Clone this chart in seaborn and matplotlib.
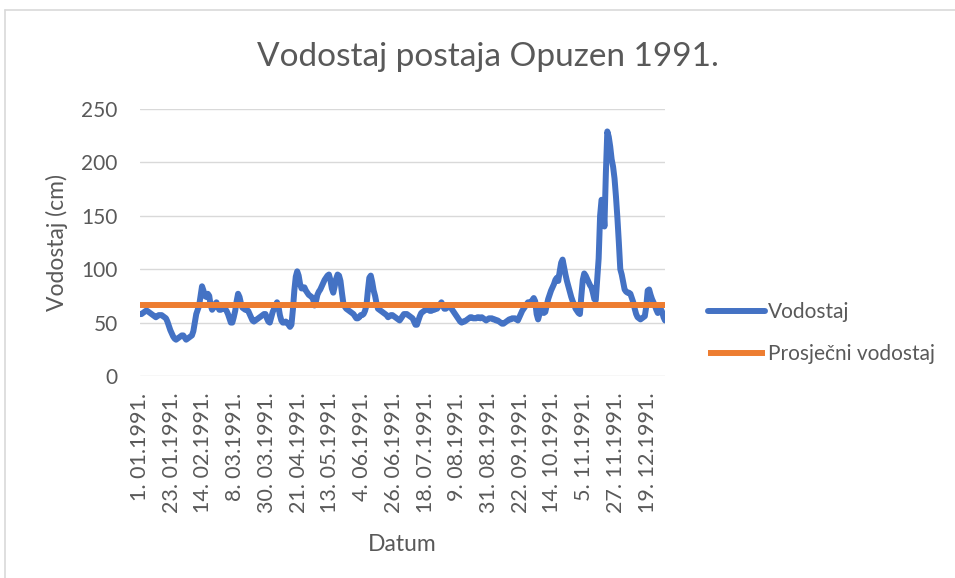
import pandas as pd
import matplotlib.pyplot as plt
import seaborn as sns
from matplotlib.lines import Line2D

# Daily water level (cm), month by month
jan = [58, 58, 59, 60, 61, 61, 60, 59, 58, 57, 56, 55, 56, 57, 57, 57, 56, 55, 54, 51,
       47, 43, 40, 37, 35, 34, 35, 36, 37, 38, 38]
feb = [36, 34, 35, 36, 37, 38, 42, 50, 58, 62, 66, 75, 84, 80, 75, 74, 77, 75, 66, 62,
       64, 67, 69, 65, 62, 62, 63, 63]
mar = [63, 61, 58, 54, 50, 50, 55, 61, 70, 77, 74, 68, 64, 63, 62, 62, 61, 58, 55, 52,
       51, 52, 53, 54, 55, 56, 57, 58, 58, 54, 51]
apr = [50, 55, 60, 63, 66, 69, 65, 57, 52, 50, 50, 51, 50, 48, 46, 48, 62, 80, 93, 98,
       94, 86, 82, 82, 83, 80, 78, 76, 75, 74]
may = [72, 66, 70, 76, 79, 81, 84, 87, 90, 92, 94, 95, 90, 82, 78, 84, 91, 95, 94, 89,
       78, 68, 65, 63, 62, 61, 60, 59, 58, 56, 54]
jun = [54, 55, 57, 57, 58, 61, 66, 80, 92, 94, 88, 80, 75, 68, 63, 62, 61, 60, 59, 58,
       57, 55, 56, 57, 57, 56, 55, 54, 53, 52]
jul = [54, 56, 58, 58, 58, 57, 56, 55, 54, 51, 48, 48, 52, 56, 59, 60, 61, 62, 63, 62,
       61, 61, 62, 62, 63, 63, 65, 67, 69, 66, 63]
aug = [63, 64, 65, 65, 63, 61, 59, 57, 55, 53, 51, 50, 51, 51, 52, 53, 54, 55, 55, 54,
       54, 54, 55, 55, 54, 55, 54, 53, 52, 53, 54]
sep = [54, 54, 53, 53, 52, 52, 51, 50, 49, 49, 50, 51, 52, 53, 53, 54, 54, 54, 53, 52,
       55, 58, 61, 63, 65, 67, 69, 69, 69, 71]
oct_ = [73, 70, 58, 53, 58, 63, 61, 59, 60, 66, 72, 76, 80, 83, 86, 90, 92, 89, 98, 106,
        109, 102, 95, 89, 84, 79, 74, 70, 67, 63, 61]
nov = [59, 58, 75, 90, 96, 94, 91, 88, 85, 83, 78, 72, 71, 90, 110, 150, 165, 163, 140, 190,
       229, 224, 215, 203, 196, 185, 168, 148, 125, 100]
dec = [95, 88, 81, 79, 78, 78, 77, 73, 69, 63, 58, 55, 54, 53, 54, 55, 56, 65, 80, 81,
       76, 72, 69, 66, 62, 59, 60, 63, 60, 55, 52]

prosjek = 66.9  # average level, horizontal line

tick_labels = ['1. 01.1991.', '23. 01.1991.', '14. 02.1991.', '8. 03.1991.', '30. 03.1991.',
               '21. 04.1991.', '13. 05.1991.', '4. 06.1991.', '26. 06.1991.', '18. 07.1991.',
               '9. 08.1991.', '31. 08.1991.', '22. 09.1991.', '14. 10.1991.', '5. 11.1991.',
               '27. 11.1991.', '19. 12.1991.']

vodostaj = jan + feb + mar + apr + may + jun + jul + aug + sep + oct_ + nov + dec
dates = pd.date_range('1991-01-01', periods=len(vodostaj), freq='D')
df = pd.DataFrame({'Datum': dates, 'Vodostaj': vodostaj})
df['Prosječni vodostaj'] = prosjek

sns.set_style('white')
plt.rcParams['font.family'] = ['Lato', 'DejaVu Sans']
grey = '#595959'

fig = plt.figure(figsize=(9.55, 5.78), dpi=100)
ax = fig.add_axes([140 / 955, 1 - 376 / 578, 525 / 955, 267 / 578])

sns.lineplot(data=df, x='Datum', y='Vodostaj', ax=ax, color='#4472C4', lw=4.3,
             label='Vodostaj', solid_capstyle='round')
sns.lineplot(data=df, x='Datum', y='Prosječni vodostaj', ax=ax, color='#ED7D31', lw=4.3,
             label='Prosječni vodostaj', solid_capstyle='butt')

ax.set_xlim(dates[0], dates[-1])
ax.set_ylim(0, 250)
ax.set_yticks(range(0, 251, 50))
ax.set_xticks(dates[::22])
ax.set_xticklabels(tick_labels, rotation=90)
ax.grid(axis='y', color='#D9D9D9', lw=1.0)
ax.set_axisbelow(True)
for s in ax.spines.values():
    s.set_visible(False)
ax.tick_params(axis='both', length=0, labelsize=15, colors=grey)
ax.tick_params(axis='x', labelsize=15.5, pad=12)
ax.tick_params(axis='y', pad=16)

# Excel centres the title on the whole chart, not the plot area
fig.text(488 / 955, 1 - 57 / 578, 'Vodostaj postaja Opuzen 1991.', fontsize=24,
         color=grey, ha='center', va='center')
ax.set_xlabel('Datum', fontsize=16.5, color=grey, labelpad=15)
ax.set_ylabel('Vodostaj (cm)', fontsize=16.5, color=grey, labelpad=10)

ax.legend(loc='center left', bbox_to_anchor=(700 / 955, 1 - 333 / 578),
          bbox_transform=fig.transFigure, frameon=False, fontsize=15,
          handlelength=2.7, handletextpad=0.15, labelspacing=1.05, borderaxespad=0,
          labelcolor=grey)

# light chart border, as in the original
fig.add_artist(Line2D([5 / 955, 1], [1 - 10 / 578, 1 - 10 / 578], color='#D9D9D9', lw=1.2))
fig.add_artist(Line2D([5 / 955, 5 / 955], [0, 1 - 10 / 578], color='#D9D9D9', lw=1.2))

fig.savefig('out.png', dpi=100)
